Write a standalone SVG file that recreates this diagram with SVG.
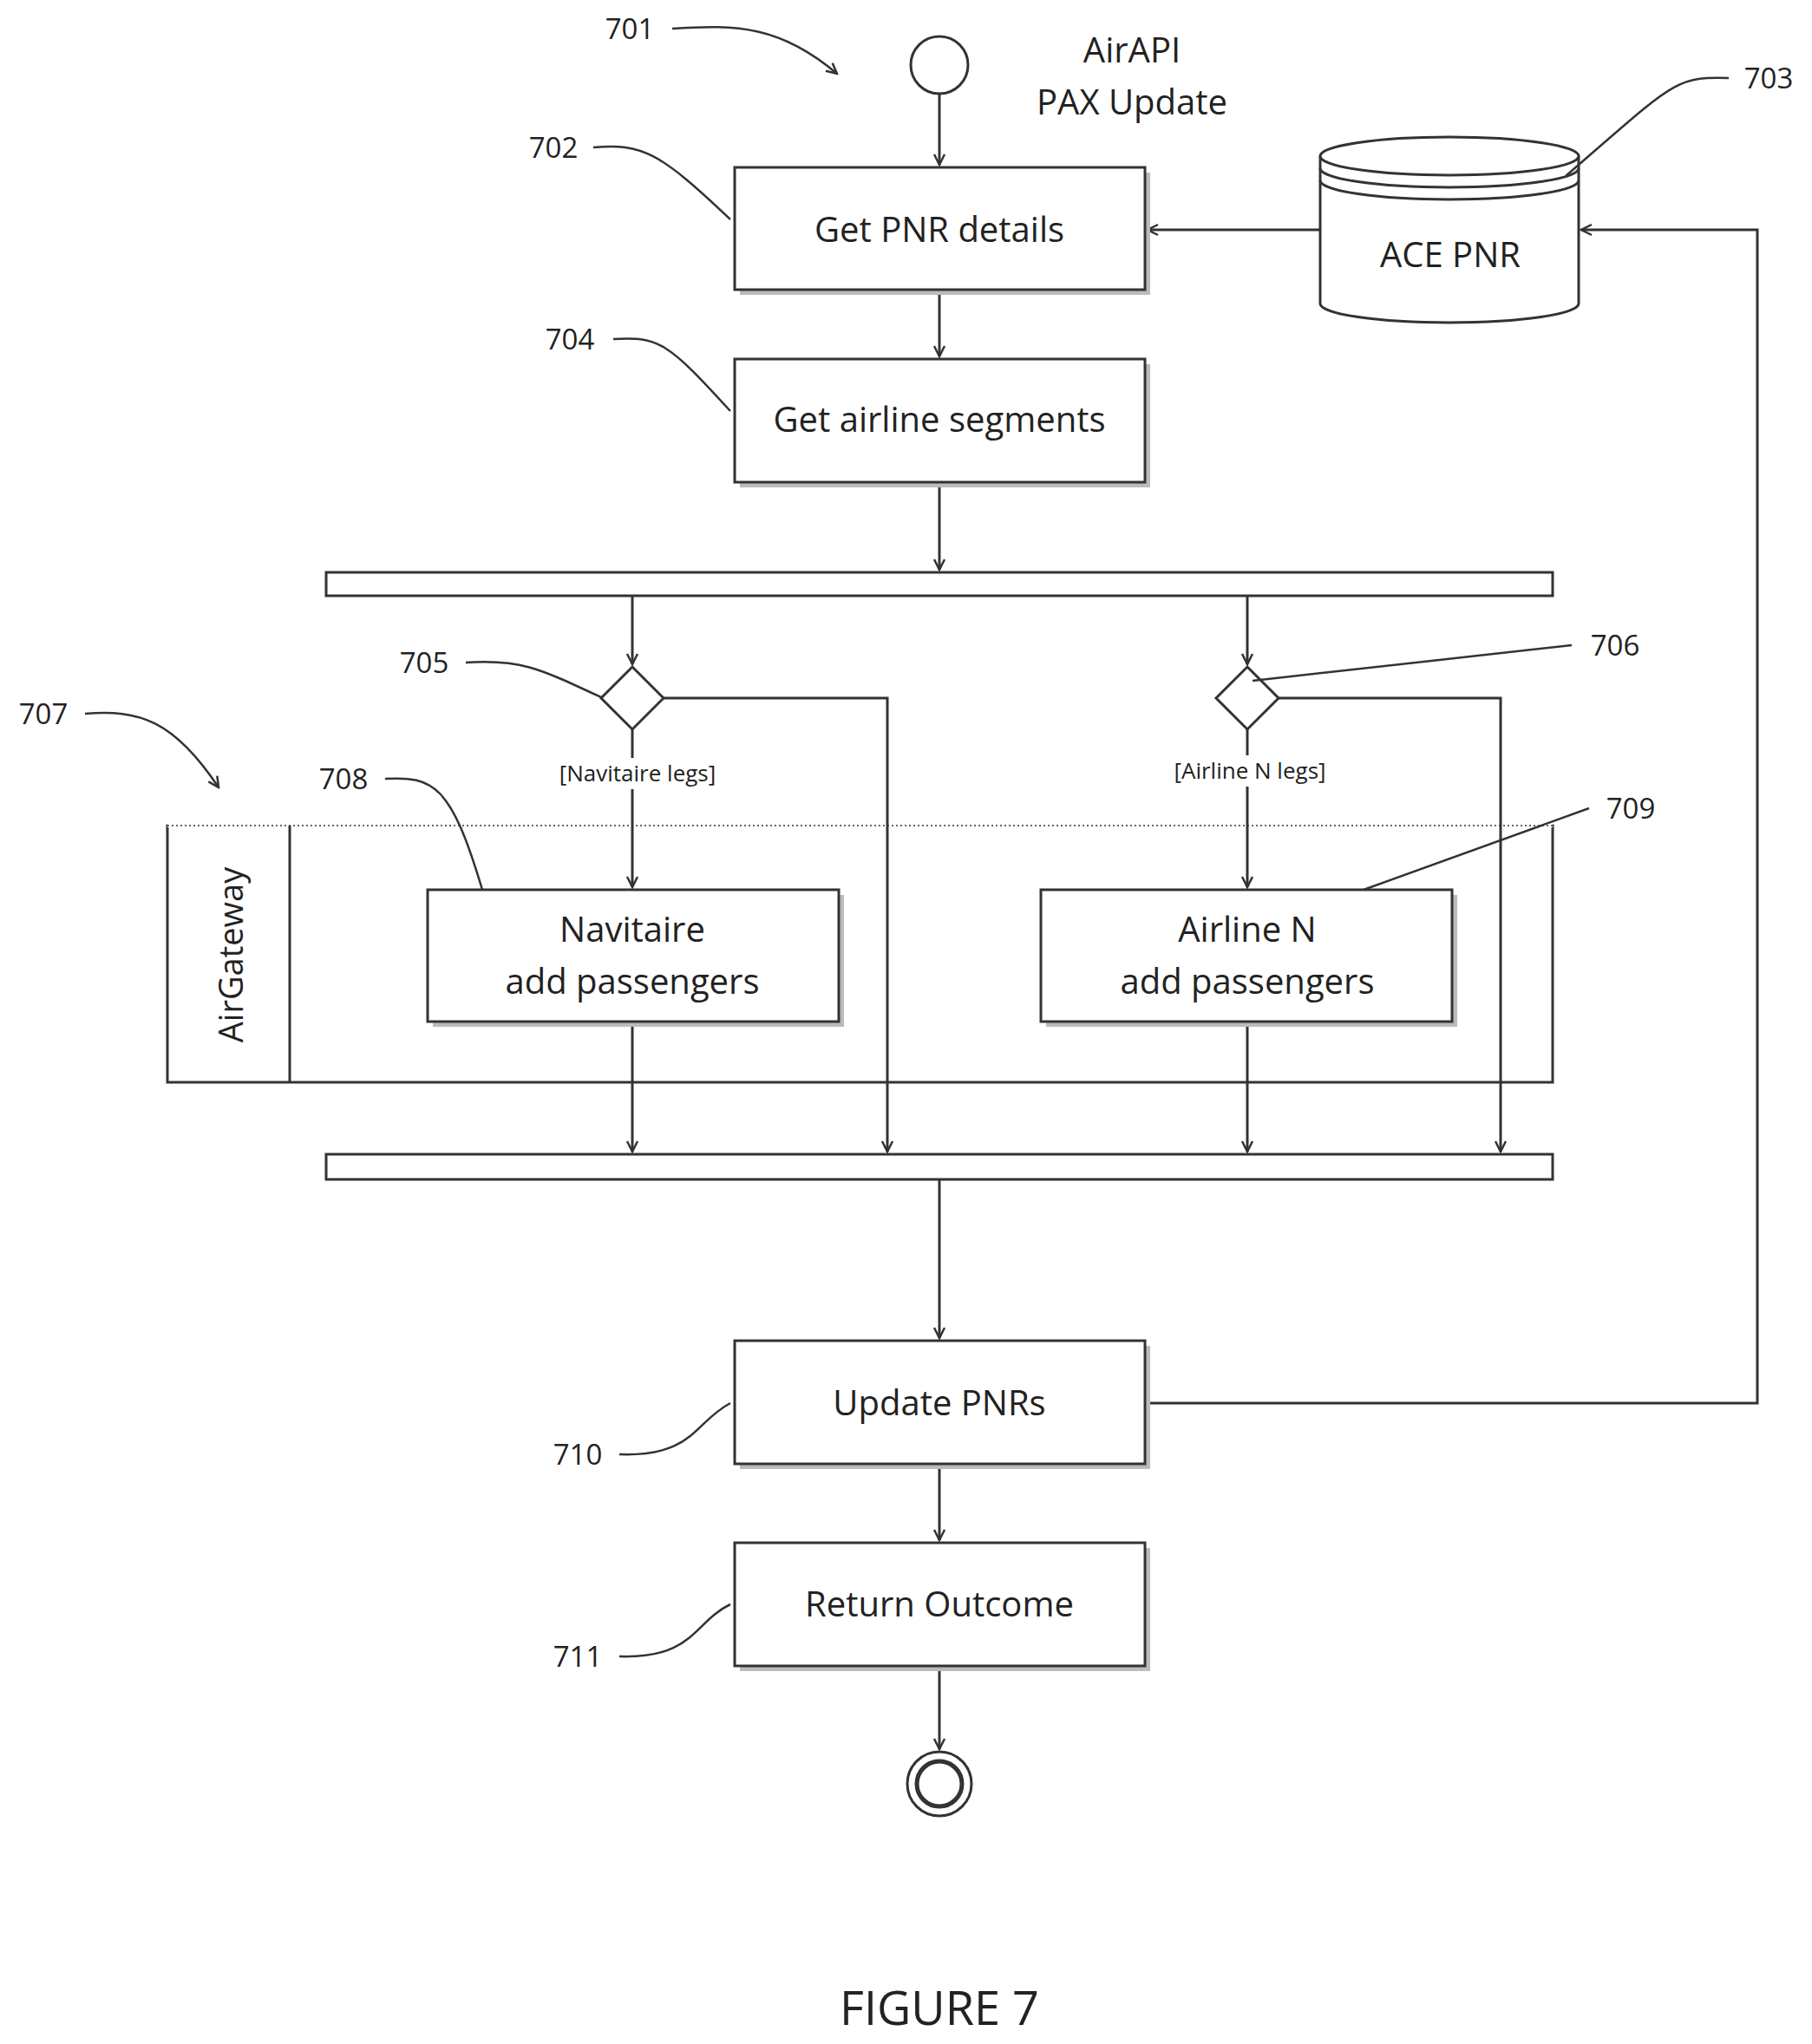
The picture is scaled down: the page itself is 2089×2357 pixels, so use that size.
<svg xmlns="http://www.w3.org/2000/svg" width="2089" height="2357" viewBox="0 0 2089 2357">
<style>
text{font-family:"Open Sans","Liberation Sans",sans-serif;fill:#222}
.box{fill:#fff;stroke:#333;stroke-width:3}
.sh{fill:#bbb}
.t{font-size:40px;text-anchor:middle}
.ref{font-size:33px;text-anchor:middle}
.g{font-size:26px;text-anchor:middle}
.ln{fill:none;stroke:#333;stroke-width:3}
.ld{fill:none;stroke:#333;stroke-width:2.5}
</style>
<defs>
<marker id="a" markerWidth="16" markerHeight="16" refX="14" refY="8" orient="auto" markerUnits="userSpaceOnUse"><path d="M2,2 L14,8 L2,14" fill="none" stroke="#333" stroke-width="2.5"/></marker>
</defs>
<rect width="2089" height="2357" fill="#fff"/>
<g id="partition">
<rect x="193" y="952" width="1597" height="296" fill="none" stroke="#333" stroke-width="3"/>
<line x1="193" y1="952" x2="1790" y2="952" stroke="#fff" stroke-width="4"/>
<line x1="193" y1="952" x2="1790" y2="952" stroke="#666" stroke-width="2" stroke-dasharray="2,3"/>
<line x1="334" y1="952" x2="334" y2="1248" stroke="#333" stroke-width="3"/>
<text x="0" y="0" font-size="38" text-anchor="middle" transform="translate(280,1101) rotate(-90)">AirGateway</text>
</g>
<g id="connectors">
<path class="ln" d="M1083,108 V190" marker-end="url(#a)"/>
<path class="ln" d="M1522,265 H1323" marker-end="url(#a)"/>
<path class="ln" d="M1083,334 V411" marker-end="url(#a)"/>
<path class="ln" d="M1083,556 V657" marker-end="url(#a)"/>
<path class="ln" d="M729,687 V766" marker-end="url(#a)"/>
<path class="ln" d="M1438,687 V766" marker-end="url(#a)"/>
<path class="ln" d="M729,841 V1023" marker-end="url(#a)"/>
<path class="ln" d="M1438,841 V1023" marker-end="url(#a)"/>
<path class="ln" d="M765,805 H1023 V1328" marker-end="url(#a)"/>
<path class="ln" d="M1474,805 H1730 V1328" marker-end="url(#a)"/>
<path class="ln" d="M729,1178 V1328" marker-end="url(#a)"/>
<path class="ln" d="M1438,1178 V1328" marker-end="url(#a)"/>
<path class="ln" d="M1083,1360 V1543" marker-end="url(#a)"/>
<path class="ln" d="M1320,1618 H2026 V265 H1823" marker-end="url(#a)"/>
<path class="ln" d="M1083,1688 V1776" marker-end="url(#a)"/>
<path class="ln" d="M1083,1921 V2017" marker-end="url(#a)"/>
</g>
<g id="start"><circle cx="1083" cy="75" r="33" fill="#fff" stroke="#333" stroke-width="3"/>
<text class="t" x="1305" y="72">AirAPI</text><text class="t" x="1305" y="132">PAX Update</text></g>
<g id="n702"><rect class="sh" x="853" y="199" width="473" height="141"/><rect class="box" x="847" y="193" width="473" height="141"/><text class="t" x="1083" y="279">Get PNR details</text></g>
<g id="n703">
<path d="M1522,180 V350 A149,22 0 0 0 1820,350 V180" fill="#fff" stroke="#333" stroke-width="3"/>
<ellipse cx="1671" cy="180" rx="149" ry="22" fill="#fff" stroke="#333" stroke-width="3"/>
<path d="M1522,194 A149,22 0 0 0 1820,194 M1522,208 A149,22 0 0 0 1820,208" fill="none" stroke="#333" stroke-width="3"/>
<text class="t" x="1672" y="308">ACE PNR</text></g>
<g id="n704"><rect class="sh" x="853" y="420" width="473" height="142"/><rect class="box" x="847" y="414" width="473" height="142"/><text class="t" x="1083" y="498">Get airline segments</text></g>
<g id="fork"><rect x="376" y="660" width="1414" height="27" fill="#fff" stroke="#333" stroke-width="3"/></g>
<g id="d705"><path d="M729,769 L765,805 L729,841 L693,805 Z" fill="#fff" stroke="#333" stroke-width="3"/></g>
<g id="d706"><path d="M1438,769 L1474,805 L1438,841 L1402,805 Z" fill="#fff" stroke="#333" stroke-width="3"/></g>
<rect x="635" y="874" width="200" height="36" fill="#fff"/>
<rect x="1341" y="871" width="200" height="36" fill="#fff"/>
<text class="g" x="735" y="901">[Navitaire legs]</text>
<text class="g" x="1441" y="898">[Airline N legs]</text>
<g id="n708"><rect class="sh" x="499" y="1032" width="474" height="152"/><rect class="box" x="493" y="1026" width="474" height="152"/><text class="t" x="729" y="1086">Navitaire</text><text class="t" x="729" y="1146">add passengers</text></g>
<g id="n709"><rect class="sh" x="1206" y="1032" width="474" height="152"/><rect class="box" x="1200" y="1026" width="474" height="152"/><text class="t" x="1438" y="1086">Airline N</text><text class="t" x="1438" y="1146">add passengers</text></g>
<g id="join"><rect x="376" y="1331" width="1414" height="29" fill="#fff" stroke="#333" stroke-width="3"/></g>
<g id="n710"><rect class="sh" x="853" y="1552" width="473" height="142"/><rect class="box" x="847" y="1546" width="473" height="142"/><text class="t" x="1083" y="1632">Update PNRs</text></g>
<g id="n711"><rect class="sh" x="853" y="1785" width="473" height="142"/><rect class="box" x="847" y="1779" width="473" height="142"/><text class="t" x="1083" y="1864">Return Outcome</text></g>
<g id="end"><circle cx="1083" cy="2057" r="37" fill="#fff" stroke="#333" stroke-width="3"/><circle cx="1083" cy="2057" r="26" fill="#fff" stroke="#333" stroke-width="5"/></g>
<g id="refs">
<text class="ref" x="726" y="45">701</text><path class="ld" d="M775,33 C850,28 900,30 965,85" marker-end="url(#a)"/>
<text class="ref" x="638" y="182">702</text><path class="ld" d="M684,170 C740,165 760,175 842,253"/>
<text class="ref" x="2039" y="102">703</text><path class="ld" d="M1993,90 C1930,88 1930,95 1805,203"/>
<text class="ref" x="657" y="403">704</text><path class="ld" d="M707,391 C760,388 770,395 842,474"/>
<text class="ref" x="489" y="776">705</text><path class="ld" d="M537,764 C600,760 620,770 695,805"/>
<text class="ref" x="1862" y="756">706</text><path class="ld" d="M1812,744 L1444,785"/>
<text class="ref" x="50" y="835">707</text><path class="ld" d="M98,823 C160,818 200,830 252,908" marker-end="url(#a)"/>
<text class="ref" x="396" y="910">708</text><path class="ld" d="M444,898 C500,895 520,905 556,1026"/>
<text class="ref" x="1880" y="944">709</text><path class="ld" d="M1832,932 L1572,1026"/>
<text class="ref" x="666" y="1689">710</text><path class="ld" d="M714,1677 C800,1680 800,1640 842,1618"/>
<text class="ref" x="666" y="1922">711</text><path class="ld" d="M714,1910 C800,1913 800,1870 842,1850"/>
</g>
<text x="1083" y="2335" font-size="54" text-anchor="middle">FIGURE 7</text>
</svg>
